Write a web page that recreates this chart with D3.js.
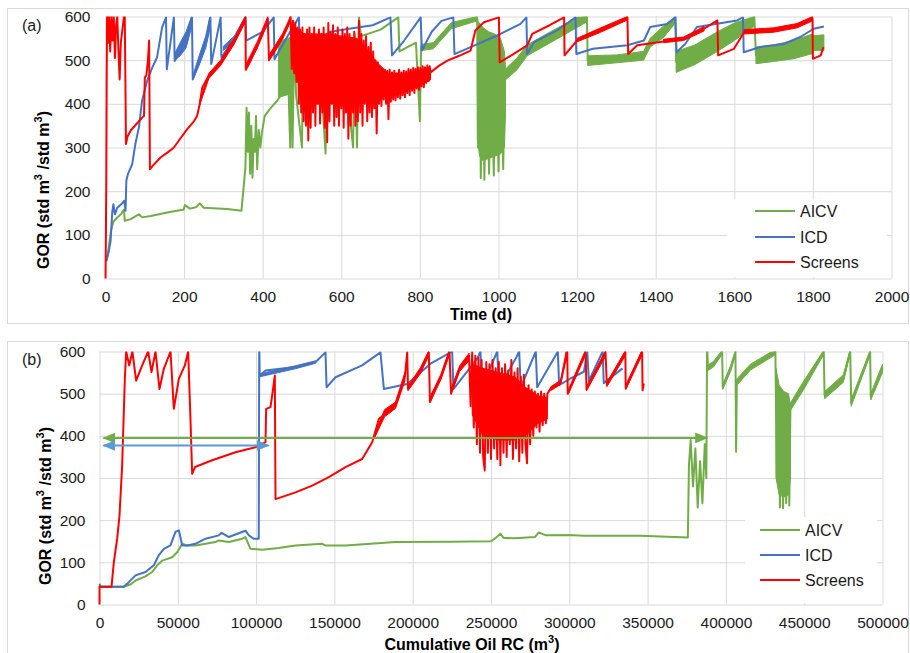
<!DOCTYPE html>
<html>
<head>
<meta charset="utf-8">
<script src="https://cdn.jsdelivr.net/npm/d3@7"></script>
<style>
body { margin: 0; background: #fff; }
svg { font-family: "Liberation Sans", Arial, sans-serif; }
</style>
</head>
<body>
<svg id="chart" width="910" height="653"></svg>
<script>
const seriesNames = ['AICV', 'ICD', 'Screens']
const seriesColors = ['#70ad47', '#4472c4', '#ff0000']
const gorTicks = [0, 100, 200, 300, 400, 500, 600]
const timeTicks = [0, 200, 400, 600, 800, 1000, 1200, 1400, 1600, 1800, 2000]
const cumTicks = [0, 50000, 100000, 150000, 200000, 250000, 300000, 350000, 400000, 450000, 500000]

// (a) GOR vs time, [day, GOR]
const timeAicv = [[3,40],[8,70],[14,110],[20,130],[28,138],[40,148],[47,158],[49,132],[64,136],[85,147],[93,140],[115,143],[157,151],[199,158],[202,168],[215,160],[230,163],[240,172],[250,162],[310,159],[346,155],[356,254],[359,391],[362,290],[365,380],[368,240],[371,350],[374,231],[377,320],[380,290],[383,372],[386,250],[390,340],[394,300],[398,334],[405,372],[420,390],[437,407],[445,418],[455,420],[466,425],[470,300],[473,545],[476,300],[480,550],[485,420],[500,300],[503,550],[520,540],[545,500],[560,286],[563,550],[600,555],[630,300],[634,560],[640,300],[645,598],[650,555],[700,570],[745,598],[748,520],[790,540],[800,360],[803,530],[834,533],[880,578],[946,596],[948,300],[951,580],[955,230],[960,560],[964,226],[970,520],[976,240],[982,560],[988,236],[994,540],[1000,245],[1006,520],[1012,250],[1016,480],[1018,468],[1047,492],[1073,522],[1132,553],[1200,585],[1225,598],[1227,498],[1300,503],[1369,510],[1386,540],[1420,565],[1450,598],[1452,496],[1500,512],[1557,542],[1600,565],[1651,598],[1655,511],[1700,516],[1750,524],[1799,538],[1802,540],[1828,540]]
const timeAicvBands = [
  [[440,415,540],[450,418,545],[460,420,550],[475,425,552]],
  [[803,522,536],[834,526,540],[880,572,586],[946,590,600]],
  [[946,320,590],[952,280,585],[960,270,575],[975,275,565],[990,280,560],[1005,285,550],[1015,300,520],[1018,380,480]],
  [[1018,455,480],[1047,478,505],[1073,510,535],[1132,540,565],[1200,575,598],[1225,588,600]],
  [[1227,488,510],[1300,494,512],[1369,500,520]],
  [[1369,500,520],[1386,530,550],[1420,552,578],[1450,585,600]],
  [[1452,472,520],[1500,490,535],[1557,520,565],[1600,545,585],[1651,578,600]],
  [[1655,492,530],[1700,497,535],[1750,503,545],[1799,515,560],[1802,522,556],[1828,522,558]]
]
const timeIcd = [[2,40],[8,60],[13,86],[17,150],[20,170],[24,147],[30,162],[40,170],[48,178],[51,155],[53,224],[57,239],[68,262],[76,308],[85,346],[93,407],[106,453],[119,483],[131,506],[144,575],[154,598],[156,479],[174,598],[176,498],[190,520],[205,545],[220,598],[222,456],[240,500],[255,540],[267,598],[269,491],[293,598],[295,506],[320,540],[356,598],[358,545],[400,565],[428,598],[430,502],[460,550],[492,598],[495,520],[530,545],[573,565],[620,572],[680,580],[725,598],[729,511],[760,545],[802,598],[805,522],[830,565],[855,590],[885,598],[888,514],[929,530],[1005,560],[1056,583],[1071,598],[1073,514],[1090,541],[1149,568],[1196,598],[1198,514],[1240,526],[1328,534],[1370,545],[1386,576],[1429,583],[1450,598],[1453,518],[1475,537],[1505,576],[1607,591],[1622,598],[1624,518],[1666,530],[1726,537],[1768,553],[1802,572],[1828,577]]
const timeIcdBands = [
  [[176,500,515],[190,510,540],[205,528,565],[218,572,598]],
  [[224,458,470],[240,492,515],[255,528,555],[265,568,598]],
  [[300,522,532],[330,547,557],[356,588,600]]
]
const timeScreens = [[0,0],[1,100],[2,220],[3,450],[4,600],[7,540],[9,600],[12,520],[15,600],[18,545],[21,600],[24,505],[27,580],[30,600],[33,520],[36,456],[39,540],[43,570],[47,600],[49,600],[51,420],[52,308],[56,325],[65,340],[80,355],[95,370],[98,372],[100,460],[104,465],[108,500],[111,545],[112,400],[113,250],[120,258],[140,277],[160,290],[174,300],[190,320],[208,342],[225,360],[233,372],[240,400],[246,437],[255,452],[263,464],[280,480],[293,495],[305,515],[318,537],[327,544],[340,570],[356,598],[357,478],[370,500],[385,530],[400,560],[413,595],[416,500],[430,520],[450,550],[465,580],
  [471,600],[474,480],[477,590],[480,470],[483,585],[486,450],[489,575],[492,400],[495,570],[498,380],[501,575],[504,360],[507,560],[510,350],[513,570],[516,316],[519,575],[522,345],[525,560],[528,380],[531,575],[534,350],[537,545],[540,400],[543,570],[546,355],[549,560],[552,380],[555,575],[558,345],[561,540],[564,312],[567,585],[570,360],[573,565],[576,400],[579,580],[582,350],[585,560],[588,370],[591,575],[594,350],[597,550],[600,390],[603,570],[606,345],[609,560],[612,380],[615,575],[618,320],[621,560],[624,350],[627,545],[630,380],[633,565],[636,350],[639,540],[642,360],[645,590],[648,380],[651,560],[654,350],[657,545],[660,400],[663,555],[666,360],[669,530],[672,380],[675,540],[678,370],[681,520],[684,390],[687,500],[690,332],[693,495],[696,400],[699,485],[702,395],[705,480],[708,410],[711,478],[714,400],[717,475],[720,365],[723,478],[726,405],[729,472],[732,410],[735,476],[738,408],[741,470],[744,415],[747,478],[750,412],[753,472],[756,420],[759,476],[762,415],[765,474],[768,425],[771,480],[774,420],[777,478],[780,430],[783,482],[786,425],[789,480],[792,435],[795,484],[798,432],[801,482],[804,440],[807,486],[810,438],[813,484],[816,448],[819,488],[822,452],[825,486],[827,472],
  [850,488],[870,499],[900,510],[929,522],[941,568],[963,587],[1001,598],[1003,495],[1040,515],[1073,534],[1086,560],[1130,580],[1167,598],[1168,511],[1200,545],[1260,570],[1328,598],[1330,514],[1353,534],[1420,543],[1471,549],[1500,560],[1523,572],[1557,591],[1559,511],[1599,526],[1625,564],[1650,568],[1700,570],[1727,572],[1760,580],[1799,595],[1800,503],[1820,511],[1827,530]]
const timeScreensBands = [
  [[240,398,408],[263,458,470],[293,488,500],[327,536,548],[356,588,600]],
  [[357,480,490],[385,525,540],[413,588,600]],
  [[416,502,512],[450,548,560],[471,590,600]],
  [[475,500,580],[490,450,570],[505,410,560],[520,400,560],[560,400,560],[600,400,555],[640,400,550],[670,410,520],[690,420,495],[720,428,470],[760,432,468],[800,442,475],[827,455,480]],
  [[1200,542,550],[1260,564,574],[1328,592,600]],
  [[1420,540,548],[1471,545,553],[1523,567,577]],
  [[1625,560,570],[1700,564,574],[1760,574,584],[1799,590,600]]
]

// (b) GOR vs cumulative oil, [m3, GOR]
const cumAicv = [[0,42],[15500,42],[20000,48],[23000,57],[29000,66],[33600,77],[36800,93],[40000,104],[46400,112],[49600,124],[52800,144],[56000,140],[61300,140],[67700,144],[74000,148],[76000,152],[82600,148],[91100,156],[93200,160],[96400,132],[103900,130],[114500,134],[125200,140],[142200,144],[144300,140],[157100,140],[189000,148],[224100,149],[250000,150],[253000,158],[256000,168],[258000,158],[265000,157],[278000,160],[280600,171],[285000,164],[300000,165],[309300,163],[345500,163],[375700,159],[376400,330],[377500,390],[379000,280],[380500,370],[382000,230],[383500,340],[385000,240],[386500,380],[387500,300],[388000,620],[388500,562],[392000,570],[396000,590],[397600,600],[398000,516],[403000,560],[406100,600],[406500,362],[407000,528],[415700,564],[428400,591],[431600,600],[432500,300],[433500,500],[434500,230],[435500,480],[436500,228],[437500,470],[438500,240],[439500,480],[440500,235],[441200,469],[449700,520],[462500,600],[463000,496],[475000,536],[479400,600],[480000,477],[492100,600],[492500,492],[500000,560]]
const cumAicvBands = [
  [[388500,555,568],[392000,563,576],[397000,590,600]],
  [[398000,510,522],[403000,553,566],[406000,590,600]],
  [[407000,520,535],[415700,556,570],[428400,585,598],[431600,592,600]],
  [[432000,300,560],[434000,260,520],[437000,255,505],[440000,260,500],[441200,300,470]],
  [[441200,460,478],[449700,510,530],[462000,590,600]],
  [[463000,488,505],[475000,527,545],[479000,590,600]],
  [[480000,470,487],[492000,590,600]],
  [[492500,485,500],[500000,550,570]]
]
const cumIcd = [[0,49],[500,42],[15500,42],[18700,53],[23000,69],[29400,77],[34700,93],[37900,117],[41100,132],[45300,140],[48500,172],[50700,176],[52800,140],[56000,140],[61300,144],[67700,156],[76200,164],[78000,170],[82600,160],[93200,175],[95400,164],[98500,156],[101700,156],[102000,620],[102300,543],[106000,555],[125000,563],[138000,575],[144300,598],[145000,515],[150700,539],[167700,567],[179400,598],[181600,511],[196500,523],[211400,571],[225200,600],[226000,511],[241200,583],[243300,600],[244000,515],[254000,600],[255000,512],[266000,585],[268000,600],[269000,515],[278600,600],[279500,515],[292700,600],[293500,520],[300800,536],[309300,552],[311500,598],[312500,530],[321300,600],[322000,525],[334000,560]]
const cumIcdBands = [
  [[102300,540,547],[125000,559,566],[138000,572,578]]
]
const cumScreens = [[0,0],[0,42],[7660,42],[9150,100],[11280,156],[12770,211],[14470,330],[16180,535],[17030,600],[19000,567],[21000,600],[23400,531],[27250,567],[31080,600],[33200,551],[35760,600],[38300,511],[41080,559],[45340,600],[47470,464],[50660,535],[54490,567],[56620,600],[58000,450],[59170,310],[61000,326],[71950,342],[86850,361],[99620,373],[103900,381],[106000,385],[106430,464],[109200,468],[110260,496],[111960,543],[112390,250],[125160,266],[135800,282],[146450,302],[157090,326],[167730,345],[174120,385],[178380,440],[189020,472],[195000,540],[196500,598],[197000,511],[205000,555],[210300,598],[211000,480],[218000,540],[223500,598],[224500,500],[230000,560],
  [236000,590],[237000,470],[238000,598],[239000,420],[240000,590],[241000,380],[242000,585],[243000,360],[244000,580],[245000,350],[246000,318],[247000,575],[248000,360],[249000,570],[250000,345],[251000,580],[252000,370],[253000,560],[254000,345],[255000,575],[256000,330],[257000,560],[258000,360],[259000,570],[260000,350],[261000,555],[262000,380],[263000,580],[264000,345],[265000,550],[266000,370],[267000,560],[268000,340],[269000,540],[270000,360],[271000,545],[272000,380],[273000,335],[274000,520],[275000,380],[276000,510],[277000,400],[278000,505],[279000,420],[280000,500],[281000,410],[282000,505],[283000,425],[284000,500],[285000,430],[286000,500],
  [288000,512],[294500,528],[298700,599],[299000,500],[310400,599],[311000,510],[323100,599],[324000,520],[335800,599],[336000,512],[346500,599],[346800,508],[347600,524]]
const cumScreensBands = [
  [[176000,398,408],[182000,445,462],[189000,465,480],[195000,530,550]],
  [[197000,507,518],[205000,548,562],[210000,588,600]],
  [[211000,480,492],[218000,533,546],[223000,588,600]],
  [[224500,500,512],[230000,553,566],[236000,578,596]],
  [[238000,450,570],[245000,400,560],[255000,390,550],[265000,390,540],[272000,400,515],[280000,430,495],[286000,440,490]],
  [[288000,507,516],[294500,522,532],[298000,588,600]],
  [[299500,500,510],[310000,588,600]],
  [[311000,507,517],[323000,588,600]],
  [[324000,517,527],[335500,588,600]],
  [[336000,510,520],[346000,588,600]]
]

// double arrows in (b): GOR level, start and end of cumulative oil
const arrowGor = [395, 377]
const arrowFrom = [2500, 2500]
const arrowTo = [388000, 108000]
const arrowColors = ['#70ad47', '#5b9bd5']

const svg = d3.select('#chart')
const fmt = d3.format('d')

function addRich(sel, parts) {
    // odd entries are superscripts
    parts.forEach((t, i) => {
        const ts = sel.append('tspan').text(t)
        if (i % 2 === 1) ts.attr('font-size', 11).attr('dy', -7)
        else if (i > 0) ts.attr('dy', 7)
    })
}

function drawPanel(p, idx) {
    const w = p.plot.right - p.plot.left
    const h = p.plot.bottom - p.plot.top
    const x = d3.scaleLinear().domain(p.xDomain).range([0, w])
    const y = d3.scaleLinear().domain([0, 600]).range([h, 0])

    svg.append('rect')
        .attr('x', p.frame.x + 0.5).attr('y', p.frame.y + 0.5)
        .attr('width', p.frame.w).attr('height', p.frame.h)
        .attr('fill', 'none').attr('stroke', '#d9d9d9')

    svg.append('text').attr('x', p.tag.x).attr('y', p.tag.y).attr('dy', '0.35em')
        .attr('font-size', 16).attr('fill', '#1a1a1a').text(p.label)

    const g = svg.append('g').attr('transform', `translate(${p.plot.left + 0.5},${p.plot.top + 0.5})`)

    const xAxis = g.append('g').attr('transform', `translate(0,${h})`)
        .call(d3.axisBottom(x).tickValues(p.xTicks).tickSize(-h).tickPadding(12).tickFormat(fmt))
    const yAxis = g.append('g')
        .call(d3.axisLeft(y).tickValues(gorTicks).tickSize(-w).tickPadding(p.yPad).tickFormat(fmt))
    ;[xAxis, yAxis].forEach(a => {
        a.select('.domain').remove()
        a.selectAll('line').attr('stroke', '#d9d9d9')
        a.selectAll('text').attr('font-size', 15.5).attr('fill', '#1a1a1a')
            .attr('font-family', '"Liberation Sans", Arial, sans-serif')
    })

    svg.append('clipPath').attr('id', 'clip' + idx)
        .append('rect').attr('x', -2).attr('y', 0).attr('width', w + 4).attr('height', h + 2)
    const plot = g.append('g').attr('clip-path', `url(#clip${idx})`)

    const line = d3.line().x(d => x(d[0])).y(d => y(d[1]))
    const area = d3.area().x(d => x(d[0])).y0(d => y(d[1])).y1(d => y(d[2]))

    p.series.forEach((s, i) => {
        const color = seriesColors[i]
        plot.selectAll(null).data(s.bands).enter().append('path')
            .attr('d', area)
            .attr('fill', color).attr('stroke', color).attr('stroke-width', 1)
        plot.append('path').datum(s.line)
            .attr('d', line)
            .attr('fill', 'none').attr('stroke', color)
            .attr('stroke-width', 2).attr('stroke-linejoin', 'round')
    })

    if (p.arrows) {
        arrowGor.forEach((v, i) => {
            const id = `arrow${idx}_${i}`
            const m = svg.append('defs').append('marker').attr('id', id)
                .attr('viewBox', '0 0 12 10').attr('refX', 11).attr('refY', 5)
                .attr('markerUnits', 'userSpaceOnUse')
                .attr('markerWidth', 13).attr('markerHeight', 11)
                .attr('orient', 'auto-start-reverse')
            m.append('path').attr('d', 'M0,0L12,5L0,10Z').attr('fill', arrowColors[i])
            g.append('line')
                .attr('x1', x(arrowFrom[i])).attr('x2', x(arrowTo[i]))
                .attr('y1', y(v)).attr('y2', y(v))
                .attr('stroke', arrowColors[i]).attr('stroke-width', 2)
                .attr('marker-start', `url(#${id})`).attr('marker-end', `url(#${id})`)
        })
    }

    const xt = svg.append('text').attr('x', p.xTitle.x).attr('y', p.xTitle.y).attr('dy', '0.35em')
        .attr('text-anchor', 'middle').attr('font-size', 16).attr('font-weight', 'bold').attr('fill', '#000')
    addRich(xt, p.xTitle.parts)

    const yt = svg.append('text')
        .attr('transform', `translate(${p.yTitle.x},${p.yTitle.y}) rotate(-90)`).attr('dy', '0.35em')
        .attr('text-anchor', 'middle').attr('font-size', 16).attr('font-weight', 'bold').attr('fill', '#000')
    addRich(yt, ['GOR (std m', '3', ' /std m', '3', ')'])

    const lg = p.legend
    svg.append('rect').attr('x', lg.x).attr('y', lg.y).attr('width', lg.w).attr('height', lg.h).attr('fill', '#fff')
    seriesNames.forEach((name, i) => {
        svg.append('line').attr('x1', lg.lineX).attr('x2', lg.lineX + 40)
            .attr('y1', lg.rows[i]).attr('y2', lg.rows[i])
            .attr('stroke', seriesColors[i]).attr('stroke-width', 2)
        svg.append('text').attr('x', lg.lineX + 45).attr('y', lg.rows[i]).attr('dy', '0.35em')
            .attr('font-size', 16).attr('fill', '#1a1a1a').text(name)
    })
}

const panels = [
    {
        label: '(a)', tag: {x: 22, y: 25},
        frame: {x: 7, y: 8, w: 901, h: 315},
        plot: {left: 105, right: 891, top: 16, bottom: 278}, yPad: 15,
        xDomain: [0, 2000], xTicks: timeTicks,
        series: [
            {line: timeAicv, bands: timeAicvBands},
            {line: timeIcd, bands: timeIcdBands},
            {line: timeScreens, bands: timeScreensBands}
        ],
        xTitle: {x: 481, y: 314, parts: ['Time (d)']},
        yTitle: {x: 43, y: 190},
        legend: {x: 727, y: 199, w: 160, h: 78, lineX: 755, rows: [211, 237, 262]}
    },
    {
        label: '(b)', tag: {x: 22, y: 359},
        frame: {x: 7, y: 341, w: 901, h: 330},
        plot: {left: 99, right: 882, top: 351, bottom: 604}, yPad: 14,
        xDomain: [0, 500000], xTicks: cumTicks,
        series: [
            {line: cumAicv, bands: cumAicvBands},
            {line: cumIcd, bands: cumIcdBands},
            {line: cumScreens, bands: cumScreensBands}
        ],
        arrows: true,
        xTitle: {x: 472, y: 644, parts: ['Cumulative Oil RC (m', '3', ')']},
        yTitle: {x: 45, y: 506},
        legend: {x: 745, y: 517, w: 132, h: 86, lineX: 760, rows: [530, 555, 580]}
    }
]

panels.forEach(drawPanel)
</script>
</body>
</html>
